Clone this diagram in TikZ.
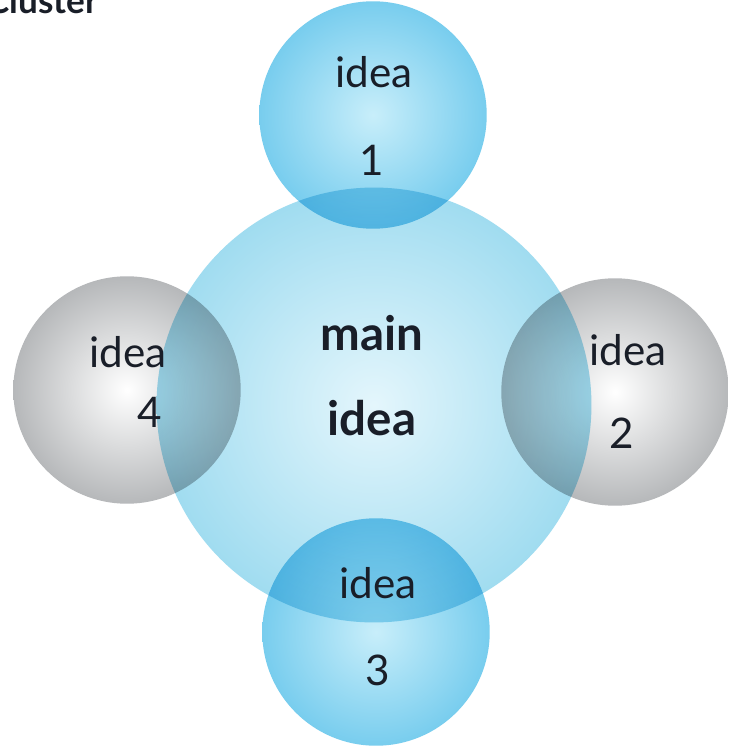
\documentclass[tikz,border=0pt]{standalone}
\usepackage{fontspec}
\setmainfont{Lato}
\usepackage{tikz}
\usetikzlibrary{positioning,calc}
\definecolor{MainEdge}{RGB}{160,220,240}
\definecolor{MainCore}{RGB}{228,246,252}
\definecolor{BlueEdge}{RGB}{120,205,238}
\definecolor{BlueCore}{RGB}{200,238,250}
\definecolor{GreyEdge}{RGB}{182,184,186}
\definecolor{GreyCore}{RGB}{255,255,255}
\definecolor{InkText}{RGB}{25,30,40}
\tikzset{
  bubble/.style={circle,minimum size=4.55cm,inner sep=0pt,blend mode=multiply},
  bluebubble/.style={bubble,inner color=BlueCore,outer color=BlueEdge},
  greybubble/.style={bubble,inner color=GreyCore,outer color=GreyEdge},
  word/.style={text=InkText,font=\fontsize{24}{28}\selectfont},
  boldword/.style={text=InkText,font=\bfseries\fontsize{27}{30}\selectfont}
}
\begin{document}
\begin{tikzpicture}[x=0.02cm,y=-0.02cm]
            \useasboundingbox (0,0) rectangle (731,749);
            \fill[white] (0,0) rectangle (731,749);
            \node[circle,minimum size=8.7cm,inner sep=0pt,blend mode=multiply,
                  inner color=MainCore,outer color=MainEdge] (main) at (374,405) {};
            \node[bluebubble] (one) at (373,115) {};
            \node[greybubble] (two) at (615,392) {};
            \node[bluebubble] (three) at (376,632) {};
            \node[greybubble] (four) at (127,390) {};
            \node[boldword] (mainA) at (372,333) {main};
            \node[boldword] (mainB) at (372,418) {idea};
            \node[word] (oneA) at (374,72) {idea};
            \node[word] (oneB) at (372,160) {1};
            \node[word] (twoA) at (628,350) {idea};
            \node[word] (twoB) at (622,433) {2};
            \node[word] (threeA) at (378,583) {idea};
            \node[word] (threeB) at (378,670) {3};
            \node[word] (fourA) at (128,352) {idea};
            \node[word] (fourB) at (150,412) {4};
            \node[anchor=base west,text=InkText,font=\bfseries\fontsize{20}{24}\selectfont]
                  (title) at (-20,14) {Cluster};
        \end{tikzpicture}
\end{document}
